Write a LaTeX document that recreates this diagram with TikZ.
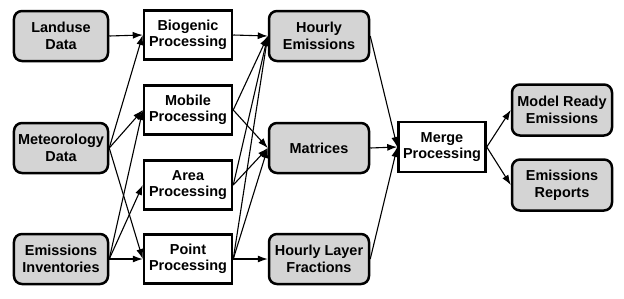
\documentclass[tikz,border=0pt]{standalone}
\usepackage{fontspec}
\setmainfont{Liberation Sans}
\usepackage{tikz}
\usetikzlibrary{arrows.meta}

\tikzset{
  box/.style={draw, line width=2.5bp, align=center, inner sep=0pt,
    font=\fontsize{14.5}{16.6}\selectfont\bfseries},
  datafile/.style={box, rounded corners=8bp, fill=black!17,
    minimum width=94bp, minimum height=50bp},
  prog/.style={box, fill=white, minimum width=88bp, minimum height=49bp},
  flow/.style={-{Latex[length=10bp,width=7bp]}, line width=1.1bp}
}

\begin{document}
\begin{tikzpicture}
\begin{scope}[x=1bp, y=-1bp]

\useasboundingbox (0,0) rectangle (624,298);

%---inputs---

\node[datafile] (landuse) at (61,36) {Landuse\\Data};
\node[datafile] (meteo) at (61,148) {Meteorology\\Data};
\node[datafile] (inv) at (61,259) {Emissions\\Inventories};

%---processors---

\node[prog] (biogenic) at (188,35) {Biogenic\\Processing};
\node[prog] (mobile) at (188,110) {Mobile\\Processing};
\node[prog] (area) at (188,185) {Area\\Processing};
\node[prog] (point) at (188,259) {Point\\Processing};

%---intermediate files---

\node[datafile, minimum width=100bp] (hourly) at (319,36) {Hourly\\Emissions};
\node[datafile, minimum width=100bp] (matrices) at (319,148) {Matrices};
\node[datafile, minimum width=100bp] (layers) at (319,259) {Hourly Layer\\Fractions};

%---merge and outputs---

\node[prog, minimum width=87bp, minimum height=50bp] (merge) at (442,147) {Merge\\Processing};
\node[datafile, minimum width=100bp, minimum height=51bp] (model) at (562,110) {Model Ready\\Emissions};
\node[datafile, minimum width=100bp, minimum height=51bp] (reports) at (562,185) {Emissions\\Reports};

%---inputs to processors---

\draw[flow](landuse.east)--(biogenic.west);
\draw[flow](meteo.east)--(biogenic.west);
\draw[flow](meteo.east)--(mobile.west);
\draw[flow](meteo.east)--(point.west);
\draw[flow](inv.east)--(mobile.west);
\draw[flow](inv.east)--(area.west);
\draw[flow](inv.east)--(point.west);

%---processors to files---

\draw[flow](biogenic.east)--(hourly.west);
\draw[flow](mobile.east)--(hourly.west);
\draw[flow](mobile.east)--(matrices.west);
\draw[flow](area.east)--(hourly.west);
\draw[flow](area.east)--(matrices.west);
\draw[flow](point.east)--(hourly.west);
\draw[flow](point.east)--(matrices.west);
\draw[flow](point.east)--(layers.west);

%---merge---

\draw[flow](hourly.east)--(merge.west);
\draw[flow](matrices.east)--(merge.west);
\draw[flow](layers.east)--(merge.west);
\draw[flow](merge.east)--(model.west);
\draw[flow](merge.east)--(reports.west);

\end{scope}
\end{tikzpicture}
\end{document}
